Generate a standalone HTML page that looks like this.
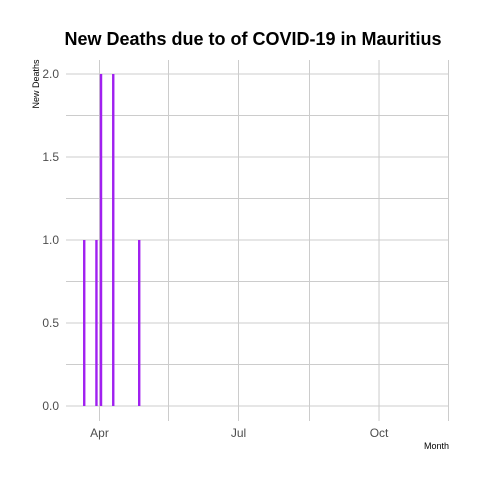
<!DOCTYPE html>
<html><head><meta charset="utf-8">
<style>
html,body{margin:0;padding:0;background:#fff;}
svg{display:block;font-family:"Liberation Sans",Arial,sans-serif;}
</style></head>
<body>
<svg id="chart" width="480" height="480" viewBox="0 0 480 480" xmlns="http://www.w3.org/2000/svg">
<rect width="480" height="480" fill="#fff"/>
<text x="253" y="45" text-anchor="middle" font-size="18" font-weight="bold" fill="#000">New Deaths due to of COVID-19 in Mauritius</text>
<text transform="translate(39,84) rotate(-90)" text-anchor="middle" font-size="9" fill="#000">New  Deaths</text>
<text x="449" y="449" text-anchor="end" font-size="9" fill="#000">Month</text>
<g id="grid"></g>
<g id="bars"></g>
<g id="labels"></g>
</svg>
<script>
const dates = ["2020-03-22","2020-03-30","2020-04-02","2020-04-10","2020-04-27"];
const deaths = [1, 1, 2, 2, 1];
const yTicks = [0, 0.5, 1, 1.5, 2];
const yTickLabels = ["0.0","0.5","1.0","1.5","2.0"];
const xTicks = ["2020-04-01","2020-07-01","2020-10-01"];
const xTickLabels = ["Apr","Jul","Oct"];
const xMinor = ["2020-05-16","2020-08-16","2020-11-15"];

const NS="http://www.w3.org/2000/svg";
const DAY=86400000;
const d0=Date.parse("2020-04-01"), px0=99.5, pxPerDay=139/91;
function x(d){return px0+(Date.parse(d)-d0)/DAY*pxPerDay;}
function y(v){return 406-v*166;}
const L=66,R=449,T=60,B=421;
function mk(tag,attrs,parent){const e=document.createElementNS(NS,tag);for(const k in attrs)e.setAttribute(k,attrs[k]);parent.appendChild(e);return e;}
const grid=document.getElementById('grid'),bars=document.getElementById('bars'),labels=document.getElementById('labels');
for(let i=0;i<yTicks.length;i++){
  const l=mk('line',{x1:L,x2:R,y1:y(yTicks[i]),y2:y(yTicks[i]),stroke:'#cccccc','stroke-width':1},grid);
  
  
  const t=mk('text',{x:59,y:y(yTicks[i])+4,'text-anchor':'end','font-size':12,fill:'#4d4d4d'},labels);
  t.textContent=yTickLabels[i];
  
  
  if(i<yTicks.length-1){
    const m=(yTicks[i]+yTicks[i+1])/2;
    const ml=mk('line',{x1:L,x2:R,y1:y(m),y2:y(m),stroke:'#cccccc','stroke-width':1},grid);
    
    
  }
}
for(let i=0;i<xTicks.length;i++){
  const xx=x(xTicks[i]);
  const l=mk('line',{x1:xx,x2:xx,y1:T,y2:B,stroke:'#cccccc','stroke-width':1},grid);
  
  
  const t=mk('text',{x:xx,y:437,'text-anchor':'middle','font-size':12,fill:'#4d4d4d'},labels);
  t.textContent=xTickLabels[i];
  
  
}
for(let i=0;i<xMinor.length;i++){
  const xx=Math.round(x(xMinor[i]))+0.5;
  const l=mk('line',{x1:xx,x2:xx,y1:T,y2:B,stroke:'#cccccc','stroke-width':1},grid);
  
  
}
for(let i=0;i<dates.length;i++){
  const xx=x(dates[i]);
  const r=mk('rect',{x:xx-1.2,y:y(deaths[i]),width:2.4,height:y(0)-y(deaths[i]),fill:'#a020f0'},bars);
  
  
}
</script>
</body></html>
